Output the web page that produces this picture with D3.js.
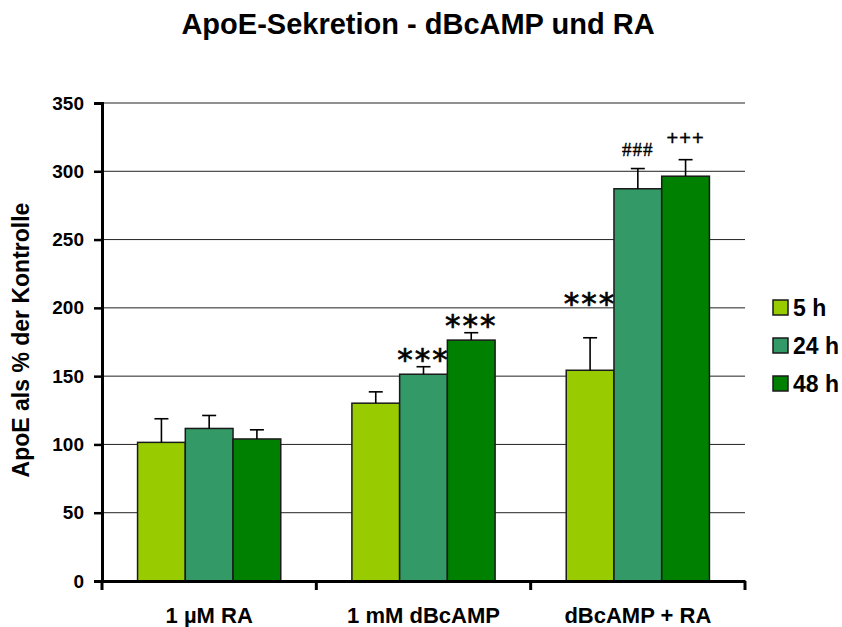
<!DOCTYPE html>
<html><head><meta charset="utf-8">
<script src="https://cdn.jsdelivr.net/npm/d3@7"></script>
<style>body{margin:0;background:#fff}svg{display:block}</style>
</head><body>
<svg id="c" width="842" height="627"></svg>
<script>
const categories = ["1 µM RA", "1 mM dBcAMP", "dBcAMP + RA"];
const seriesNames = ["5 h", "24 h", "48 h"];
const seriesColors = ["#99CC00", "#339966", "#008000"];
const values5h  = [101.5, 130.2, 154.3];
const values24h = [111.7, 151.4, 287.2];
const values48h = [104.0, 176.4, 296.4];
const err5h  = [17.3, 8.3, 23.8];
const err24h = [9.5, 5.5, 14.8];
const err48h = [6.7, 5.4, 12.1];
const annot5h  = ["", "", "***"];
const annot24h = ["", "***", "###"];
const annot48h = ["", "***", "+++"];
const yTicks = [0, 50, 100, 150, 200, 250, 300, 350];

const values = [values5h, values24h, values48h];
const errs = [err5h, err24h, err48h];
const annots = [annot5h, annot24h, annot48h];

const svg = d3.select("#c");
const mLeft = 102, mRight = 745, mTop = 103, mBottom = 581;
const font = "'Liberation Sans', Arial, sans-serif";

const x0 = d3.scaleBand().domain(categories).range([mLeft, mRight]).paddingInner(0).paddingOuter(0);
const x1 = d3.scaleBand().domain(seriesNames).range([0, x0.bandwidth()]).paddingInner(0).paddingOuter(0.745);
const y = d3.scaleLinear().domain([0, 350]).range([mBottom, mTop]);

// title
svg.append("text").attr("x", 418).attr("y", 34).attr("text-anchor", "middle")
  .attr("font-family", font).attr("font-weight", "bold").attr("font-size", 29)
  .text("ApoE-Sekretion - dBcAMP und RA");

// gridlines
svg.append("g").selectAll("line").data(yTicks.filter(d => d > 0)).join("line")
  .attr("x1", mLeft).attr("x2", mRight).attr("y1", d => y(d)).attr("y2", d => y(d))
  .attr("stroke", "#222").attr("stroke-width", 1);

// bars
const rows = [];
categories.forEach((c, i) => seriesNames.forEach((s, j) => rows.push({c, i, s, j, v: values[j][i], e: errs[j][i], a: annots[j][i]})));

const g = svg.append("g");
g.selectAll("rect").data(rows).join("rect")
  .attr("x", d => x0(d.c) + x1(d.s)).attr("width", x1.bandwidth())
  .attr("y", d => y(d.v)).attr("height", d => y(0) - y(d.v))
  .attr("fill", d => seriesColors[d.j]).attr("stroke", "#1a1a1a").attr("stroke-width", 1.5);

// error bars
const cx = d => x0(d.c) + x1(d.s) + x1.bandwidth() / 2;
g.selectAll("line.eb").data(rows).join("line").attr("class", "eb")
  .attr("x1", cx).attr("x2", cx).attr("y1", d => y(d.v)).attr("y2", d => y(d.v + d.e))
  .attr("stroke", "#000").attr("stroke-width", 1.6);
g.selectAll("line.cap").data(rows).join("line").attr("class", "cap")
  .attr("x1", d => cx(d) - 7).attr("x2", d => cx(d) + 7).attr("y1", d => y(d.v + d.e)).attr("y2", d => y(d.v + d.e))
  .attr("stroke", "#000").attr("stroke-width", 1.6);

// annotations: placed above the error bar; lifted when the right neighbour is much taller
function annY(d) {
  const top = y(d.v + d.e);
  if (d.a === "***") {
    const nb = rows.find(r => r.i === d.i && r.j === d.j + 1);
    if (nb && y(nb.v) < top - 40) return top - 24;
    return top + 3;
  }
  if (d.a === "###") return top - 13;
  return top - 15;
}
g.selectAll("text.ann").data(rows.filter(d => d.a)).join("text").attr("class", "ann")
  .attr("x", cx).attr("y", annY).attr("text-anchor", "middle")
  .attr("font-family", d => d.a === "###" ? "'Liberation Serif', serif" : (d.a === "***" ? "'DejaVu Sans', sans-serif" : font))
  .attr("font-size", d => d.a === "***" ? 31 : (d.a === "###" ? 19 : 20))
  .attr("letter-spacing", d => d.a === "***" ? 2 : 1)
  .attr("stroke", "#000").attr("stroke-width", d => d.a === "***" ? 0.7 : 0.4)
  .text(d => d.a);

// axes
const yAxis = d3.axisLeft(y).tickValues(yTicks).tickSize(8).tickPadding(10);
const ya = svg.append("g").attr("transform", `translate(${mLeft},0)`).call(yAxis);
ya.select(".domain").attr("stroke", "#000").attr("stroke-width", 3);
ya.selectAll(".tick line").attr("stroke", "#000").attr("stroke-width", 2.5);
ya.selectAll("text").attr("font-family", font).attr("font-weight", "bold").attr("font-size", 19).attr("fill", "#000");

const xAxis = d3.axisBottom(x0).tickSize(0).tickPadding(26).tickSizeOuter(0);
const xa = svg.append("g").attr("transform", `translate(0,${mBottom})`).call(xAxis);
xa.select(".domain").attr("stroke", "#000").attr("stroke-width", 3);
xa.selectAll("text").attr("font-family", font).attr("font-weight", "bold").attr("font-size", 22).attr("fill", "#000");
const bounds = [mLeft].concat(categories.map(c => x0(c) + x0.bandwidth()));
xa.selectAll("line.bt").data(bounds).join("line").attr("class", "bt")
  .attr("x1", d => d).attr("x2", d => d).attr("y1", 0).attr("y2", 9)
  .attr("stroke", "#000").attr("stroke-width", 3);

// y label
svg.append("text").attr("transform", "translate(29,340) rotate(-90)").attr("text-anchor", "middle")
  .attr("font-family", font).attr("font-weight", "bold").attr("font-size", 23)
  .text("ApoE als % der Kontrolle");

// legend
const lg = svg.append("g").selectAll("g").data(seriesNames).join("g")
  .attr("transform", (d, i) => `translate(773,${300 + i * 38})`);
lg.append("rect").attr("width", 15).attr("height", 15).attr("fill", (d, i) => seriesColors[i]).attr("stroke", "#1a1a1a").attr("stroke-width", 1.5);
lg.append("text").attr("x", 20).attr("y", 15.5).attr("font-family", font).attr("font-weight", "bold").attr("font-size", 23).text(d => d);
</script>
</body></html>
